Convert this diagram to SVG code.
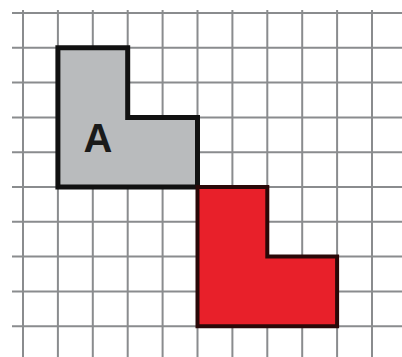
<svg xmlns="http://www.w3.org/2000/svg" width="402" height="357" viewBox="0 0 402 357">
<style>
.g{stroke:#8a8c8e;stroke-width:2;fill:none}
.lbl{font-family:"Liberation Sans",Arial,sans-serif;font-weight:bold;font-size:40px;fill:#1a1a1a}
</style>
<rect width="402" height="357" fill="#ffffff"/>
<g id="grid">
<path class="g" d="M23,10V357M57.9,10V357M92.8,10V357M127.7,10V357M162.6,10V357M197.5,10V357M232.4,10V357M267.3,10V357M302.2,10V357M337.1,10V357M372,10V357"/>
<path class="g" d="M12,13H402M12,47.8H402M12,82.6H402M12,117.4H402M12,152.2H402M12,187H402M12,221.8H402M12,256.6H402M12,291.4H402M12,326.2H402"/>
</g>
<g id="shapeA">
<path d="M57.9,47.8H127.7V117.4H197.5V187H57.9Z" fill="#b9bbbd" stroke="#111" stroke-width="5" stroke-linejoin="miter"/>
<text class="lbl" x="98" y="152" text-anchor="middle">A</text>
</g>
<g id="shapeB">
<path d="M197.5,187H267.3V256.6H337.1V326.2H197.5Z" fill="#e8202a" stroke="#2a0808" stroke-width="4"/>
</g>
</svg>
